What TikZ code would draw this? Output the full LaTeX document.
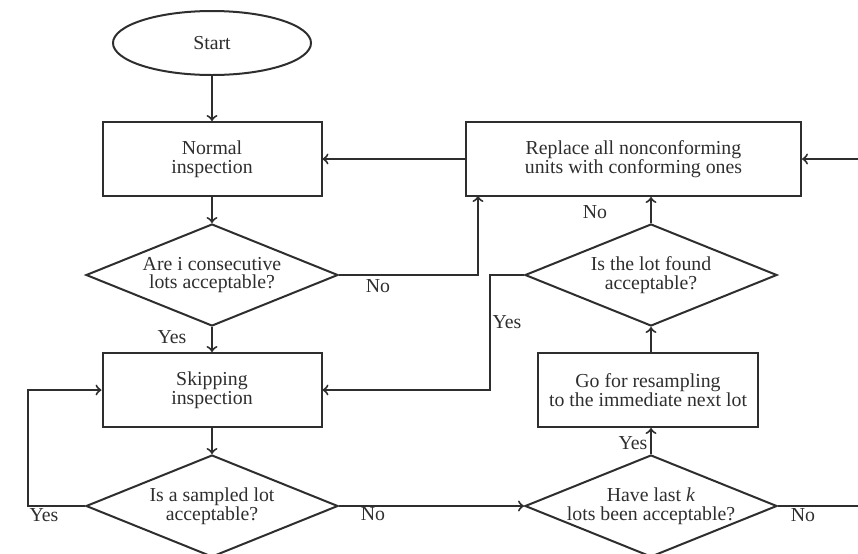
\documentclass[tikz,border=0pt]{standalone}
\usepackage{fontspec}
\setmainfont{Liberation Serif}
\usetikzlibrary{shapes.geometric, calc}

\definecolor{ink}{HTML}{2E2E2E}

\begin{document}
\begin{tikzpicture}[x=0.5pt, y=-0.5pt, line width=1pt, draw=ink, text=ink,
  every node/.style={font=\fontsize{9.9}{9.3}\selectfont, align=center},
  box/.style={draw, rectangle, minimum width=109.5pt, minimum height=37pt, inner sep=0pt},
  decision/.style={draw, diamond, aspect=2.5, inner xsep=-6pt, inner ysep=0pt,
    minimum width=126pt, minimum height=51pt},
  lbl/.style={inner sep=1pt},
  >=to]
  \useasboundingbox (0,0) rectangle (858,553);
  \clip (0,0) rectangle (858,553);

  % left column
  \node (start) [draw, ellipse, minimum width=99pt, minimum height=32pt] at (212,43) {Start};
  \node (normal) [box] at (212,159) {Normal\\inspection};
  \node (cons) [decision] at (212,275) {Are i consecutive\\lots acceptable?};
  \node (skip) [box] at (212,390) {Skipping\\inspection};
  \node (sampled) [decision] at (212,506) {Is a sampled lot\\acceptable?};

  % right column
  \node (replace) [box, minimum width=167.5pt] at (633.5,159)
    {Replace all nonconforming\\units with conforming ones};
  \node (found) [decision] at (651,275) {Is the lot found\\acceptable?};
  \node (resample) [box, minimum width=110pt] at (648,390)
    {Go for resampling\\to the immediate next lot};
  \node (lastk) [decision] at (651,506) {Have last \textit{k}\\lots been acceptable?};

  \coordinate (c1) at (478,196);
  \coordinate (c2) at (490,390);
  \coordinate (c3) at (28,506);
  \coordinate (rin) at (858,159);
  \coordinate (rout) at (858,506);

  \draw[->] (start) -- (normal);
  \draw[->] (normal) -- (cons);
  \draw[->] (cons) -- (skip);
  \draw[->] (skip) -- (sampled);
  \draw[->] (cons.east) -| (c1);
  \draw[->] (replace.west) -- (normal.east);
  \draw[->] (rin) -- (replace.east);
  \draw[->] (found) -- (found |- replace.south);
  \draw[->] (found.west) -| (c2) -- (skip.east);
  \draw[->] (sampled.west) -- (c3) |- (skip.west);
  \draw[->] (sampled.east) -- (lastk.west);
  \draw[->] (lastk) -- (lastk |- resample.south);
  \draw[->] (resample.north -| found) -- (found);
  \draw (lastk.east) -- (rout);

  % labels
  \node (ncons) [lbl] at (378,286) {No};
  \node (ycons) [lbl] at (172,337) {Yes};
  \node (nfound) [lbl] at (595,212) {No};
  \node (yfound) [lbl] at (507,322) {Yes};
  \node (ysampled) [lbl] at (44,515) {Yes};
  \node (nsampled) [lbl] at (373,514) {No};
  \node (ylastk) [lbl] at (633,443) {Yes};
  \node (nlastk) [lbl] at (803,515) {No};
\end{tikzpicture}
\end{document}
